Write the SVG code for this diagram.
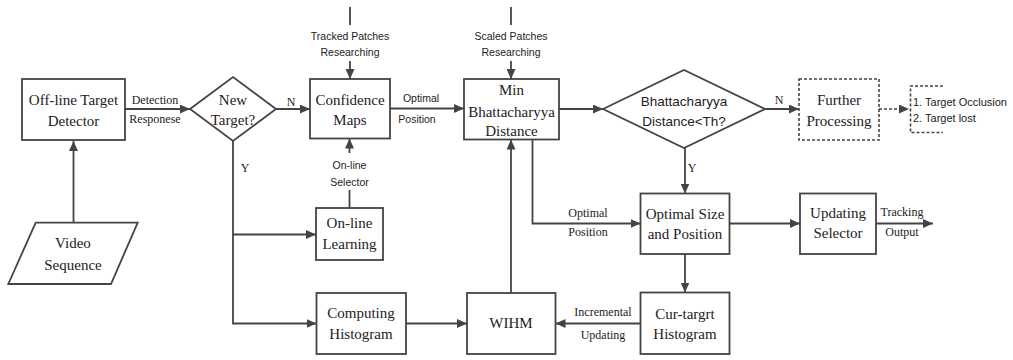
<svg xmlns="http://www.w3.org/2000/svg" width="1013" height="360" viewBox="0 0 1013 360">
<style>
.box{fill:#fff;stroke:#444;stroke-width:1.8}
.dash{fill:#fff;stroke:#444;stroke-width:1.6;stroke-dasharray:3,2}
.ln{fill:none;stroke:#444;stroke-width:1.8}
.dl{fill:none;stroke:#444;stroke-width:1.6;stroke-dasharray:3,2}
.t{font-family:"Liberation Serif","Times New Roman",serif;font-size:15px;fill:#222;text-anchor:middle}
.s{font-family:"Liberation Serif","Times New Roman",serif;font-size:12px;fill:#222;text-anchor:middle}
.a{font-family:"Liberation Sans",Arial,sans-serif;font-size:10.5px;fill:#222;text-anchor:middle}
.d{font-family:"Liberation Sans",Arial,sans-serif;font-size:13.5px;fill:#222;text-anchor:middle}
.b{font-family:"Liberation Sans",Arial,sans-serif;font-size:11px;fill:#222}
</style>
<defs>
<marker id="ah" markerUnits="userSpaceOnUse" markerWidth="11" markerHeight="9" refX="10" refY="4.5" orient="auto">
<path d="M0,0 L10,4.5 L0,9 z" fill="#444"/>
</marker>
</defs>
<rect width="1013" height="360" fill="#fff"/>
<g id="connectors">
<path class="ln" d="M73.5,222.7 V141" marker-end="url(#ah)"/>
<path class="ln" d="M125,109 H190" marker-end="url(#ah)"/>
<path class="ln" d="M276,109 H310" marker-end="url(#ah)"/>
<path class="ln" d="M350,7 V25"/>
<path class="ln" d="M350,61 V79" marker-end="url(#ah)"/>
<path class="ln" d="M390,108.5 H464" marker-end="url(#ah)"/>
<path class="ln" d="M511,7 V25"/>
<path class="ln" d="M511,61 V79" marker-end="url(#ah)"/>
<path class="ln" d="M559,109 H603" marker-end="url(#ah)"/>
<path class="ln" d="M765,109 H799" marker-end="url(#ah)"/>
<path class="dl" d="M879,109 H909" marker-end="url(#ah)"/>
<path class="dl" d="M943,86 H910.5 V132.5 H943"/>
<path class="ln" d="M685,148 V193.5" marker-end="url(#ah)"/>
<path class="ln" d="M233,141 V323.5 H316.5" marker-end="url(#ah)"/>
<path class="ln" d="M233,234.5 H316" marker-end="url(#ah)"/>
<path class="ln" d="M349.5,208 V190"/>
<path class="ln" d="M349.5,153 V138.5" marker-end="url(#ah)"/>
<path class="ln" d="M406,323.5 H467" marker-end="url(#ah)"/>
<path class="ln" d="M511,293 V139.5" marker-end="url(#ah)"/>
<path class="ln" d="M532.5,139.5 V223.5 H640.5" marker-end="url(#ah)"/>
<path class="ln" d="M729.5,223.5 H800" marker-end="url(#ah)"/>
<path class="ln" d="M876,223.5 H933" marker-end="url(#ah)"/>
<path class="ln" d="M685,254 V292.5" marker-end="url(#ah)"/>
<path class="ln" d="M640.5,323.5 H555.5" marker-end="url(#ah)"/>
<text class="s" x="155" y="104">Detection</text>
<text class="s" x="155" y="123">Responese</text>
<text class="s" x="291" y="106">N</text>
<text class="s" x="245" y="172">Y</text>
<text class="a" x="350" y="40">Tracked Patches</text>
<text class="a" x="350" y="56">Researching</text>
<text class="a" x="511" y="40">Scaled Patches</text>
<text class="a" x="511" y="56">Researching</text>
<text class="a" x="421" y="102">Optimal</text>
<text class="a" x="417" y="123">Position</text>
<text class="a" x="349.5" y="169">On-line</text>
<text class="a" x="349.5" y="185.5">Selector</text>
<text class="s" x="779" y="104">N</text>
<text class="s" x="692" y="172">Y</text>
<text class="s" x="588" y="217">Optimal</text>
<text class="s" x="588" y="236">Position</text>
<text class="s" x="603" y="316">Incremental</text>
<text class="s" x="603" y="339">Updating</text>
<text class="s" x="902" y="216">Tracking</text>
<text class="s" x="902" y="236">Output</text>
<text class="b" x="913" y="105.7">1. Target Occlusion</text>
<text class="b" x="913" y="121.5">2. Target lost</text>
</g>
<g id="detector">
<rect class="box" x="22" y="79" width="103" height="61"/>
<text class="t" x="73.5" y="105">Off-line Target</text>
<text class="t" x="73.5" y="126">Detector</text>
</g>
<g id="newtarget">
<polygon class="box" points="190,109 233,77 276,109 233,141"/>
<text class="t" x="233" y="104.5">New</text>
<text class="t" x="233" y="125">Target?</text>
</g>
<g id="confidence">
<rect class="box" x="310" y="79" width="80" height="59.5"/>
<text class="t" x="350" y="104.5">Confidence</text>
<text class="t" x="350" y="125">Maps</text>
</g>
<g id="minbhatt">
<rect class="box" x="464" y="79" width="95" height="60.5"/>
<text class="t" x="511.5" y="94.5">Min</text>
<text class="t" x="511.5" y="116.5">Bhattacharyya</text>
<text class="t" x="511.5" y="136">Distance</text>
</g>
<g id="bhattdiamond">
<polygon class="box" points="603,109 684,70 765,109 684,148"/>
<text class="d" x="684" y="105.5">Bhattacharyya</text>
<text class="d" x="684" y="125.5">Distance&lt;Th?</text>
</g>
<g id="further">
<rect class="dash" x="799" y="79" width="80" height="61"/>
<text class="t" x="839" y="105">Further</text>
<text class="t" x="839" y="126">Processing</text>
</g>
<g id="video">
<polygon class="box" points="35.7,222.7 137.7,222.7 111,284 8.3,284"/>
<text class="t" x="73" y="248">Video</text>
<text class="t" x="73" y="270">Sequence</text>
</g>
<g id="onlinelearning">
<rect class="box" x="316" y="208" width="67" height="52"/>
<text class="t" x="349.5" y="228">On-line</text>
<text class="t" x="349.5" y="249">Learning</text>
</g>
<g id="comphist">
<rect class="box" x="316.5" y="293" width="89.5" height="61"/>
<text class="t" x="361" y="318">Computing</text>
<text class="t" x="361" y="339">Histogram</text>
</g>
<g id="wihm">
<rect class="box" x="467" y="293" width="88.5" height="61"/>
<text class="t" x="511" y="328">WIHM</text>
</g>
<g id="optsize">
<rect class="box" x="640.5" y="193.5" width="89" height="60.5"/>
<text class="t" x="685" y="218.5">Optimal Size</text>
<text class="t" x="685" y="238.5">and Position</text>
</g>
<g id="updating">
<rect class="box" x="800" y="193.5" width="76" height="60.5"/>
<text class="t" x="838" y="218">Updating</text>
<text class="t" x="838" y="238">Selector</text>
</g>
<g id="curtarget">
<rect class="box" x="640.5" y="292.5" width="89" height="61.5"/>
<text class="t" x="685" y="318.5">Cur-targrt</text>
<text class="t" x="685" y="338.5">Histogram</text>
</g>
</svg>
